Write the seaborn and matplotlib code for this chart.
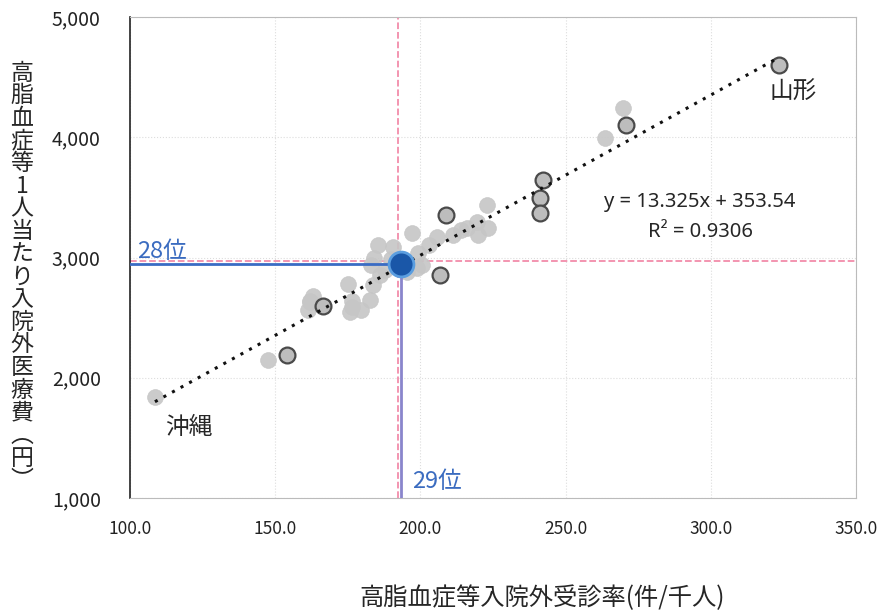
import pandas as pd
import matplotlib
matplotlib.use("Agg")
import matplotlib.pyplot as plt
import seaborn as sns

# 受診率 (件/千人) と 1人当たり医療費 (円)
rate = [108.6, 147.5, 154.0, 161.3, 162.0, 163.0, 166.5, 176.4, 176.4, 175.0,
        182.6, 183.0, 184.0, 185.4, 187.8, 186.0, 190.6, 183.7, 162.0, 175.8,
        197.0, 199.2, 200.6, 198.8, 206.7, 208.8, 205.7, 211.2, 216.0, 219.5,
        222.9, 223.3, 219.8, 241.2, 241.2, 242.2, 263.6, 269.8, 270.8, 323.5,
        190.0, 195.5, 203.0, 214.0, 179.5]
cost = [1840, 2150, 2190, 2560, 2640, 2680, 2595, 2590, 2640, 2780,
        2650, 2940, 3000, 3100, 2900, 2855, 3090, 2771, 2630, 2547,
        3200, 3037, 2938, 2913, 2854, 3353, 3170, 3187, 3245, 3295,
        3437, 3245, 3187, 3495, 3370, 3645, 3994, 4243, 4102, 4600,
        2985, 2880, 3100, 3230, 2560]
outlined = [0, 0, 1, 0, 0, 0, 1, 0, 0, 0,
            0, 0, 0, 0, 0, 0, 0, 0, 0, 0,
            0, 0, 0, 0, 1, 1, 0, 0, 0, 0,
            0, 0, 0, 1, 1, 1, 0, 0, 1, 1,
            0, 0, 0, 0, 0]

# 本県 (28位 / 29位)
own_rate, own_cost = 193.3, 2945
avg_rate, avg_cost = 192.3, 2970

slope, intercept = 13.325, 353.54
x_ticks = [100, 150, 200, 250, 300, 350]
y_ticks = [1000, 2000, 3000, 4000, 5000]

df = pd.DataFrame({"rate": rate, "cost": cost, "outlined": outlined})

sns.set_style("white")
plt.rcParams["font.family"] = ["Noto Sans CJK JP", "DejaVu Sans"]

fig = plt.figure(figsize=(8.77, 6.14), dpi=100)
ax = fig.add_axes([0.1482, 0.1889, 0.976 - 0.1482, 0.9723 - 0.1889])

ax.set_xlim(100, 350)
ax.set_ylim(1000, 5000)
ax.set_xticks(x_ticks)
ax.set_yticks(y_ticks)
ax.set_xticklabels([f"{v:.1f}" for v in x_ticks])
ax.set_yticklabels([f"{v:,}" for v in y_ticks])
ax.tick_params(length=0, colors="#222222")
ax.tick_params(axis="x", pad=16, labelsize=12.5)
ax.tick_params(axis="y", pad=21, labelsize=14)
ax.grid(True, color="#dddddd", linestyle=":", linewidth=0.8)

for s in ["top", "right", "bottom"]:
    ax.spines[s].set_color("#bbbbbb")
ax.spines["left"].set_color("#222222")
ax.spines["left"].set_linewidth(1.2)

# 平均線
ax.axhline(avg_cost, color="#f28caa", linestyle="--", linewidth=1.3, zorder=1)
ax.axvline(avg_rate, color="#f28caa", linestyle="--", linewidth=1.3, zorder=1)

sns.scatterplot(data=df[df.outlined == 0], x="rate", y="cost", ax=ax,
                color="#c6c6c6", edgecolor="#c6c6c6", s=130, linewidth=0.5,
                alpha=0.9, zorder=2, legend=False)
sns.scatterplot(data=df[df.outlined == 1], x="rate", y="cost", ax=ax,
                color="#bdbdbd", edgecolor="#4a4a4a", s=130, linewidth=1.6,
                zorder=3, legend=False)

# 近似曲線
line_x = [min(rate), max(rate)]
line_y = [slope * v + intercept for v in line_x]
ax.plot(line_x, line_y, color="#111111", linestyle=(0, (1, 2.2)),
        linewidth=2.2, zorder=4)

# 本県の位置
ax.plot([100, own_rate], [own_cost, own_cost], color="#3a6cc4", linewidth=2, zorder=5)
ax.plot([own_rate, own_rate], [1000, own_cost], color="#8a85cc", linewidth=2, zorder=5)
ax.scatter([own_rate], [own_cost], s=320, color="#1a57a8", edgecolor="#5b9ee0",
           linewidth=2, zorder=6)

ax.text(320.4, 4376, "山形", fontsize=17, va="center", ha="left")
ax.text(112, 1590, "沖縄", fontsize=17, va="center", ha="left")
ax.text(102.4, 3050, "28位", fontsize=17, color="#3b6cc0", va="center", ha="left")
ax.text(197.1, 1141, "29位", fontsize=17, color="#3b6cc0", va="center", ha="left")
ax.text(296.3, 3461, f"y = {slope}x + {intercept}", fontsize=14.5,
        family=["Noto Sans", "DejaVu Sans"], va="center", ha="center")
ax.text(296.3, 3212, "R² = 0.9306", fontsize=14.5,
        family=["Noto Sans", "DejaVu Sans"], va="center", ha="center")

ax.set_xlabel("")
ax.set_ylabel("")
ylab = "高脂血症等1人当たり入院外医療費︵円︶"
fig.text(0.025, 0.549, "\n".join(ylab), fontsize=16.5, ha="center", va="center",
         linespacing=0.98)
fig.text(0.618, 0.026, "高脂血症等入院外受診率(件/千人)", fontsize=17.5,
         ha="center", va="center")

fig.savefig("out.png", dpi=100)
